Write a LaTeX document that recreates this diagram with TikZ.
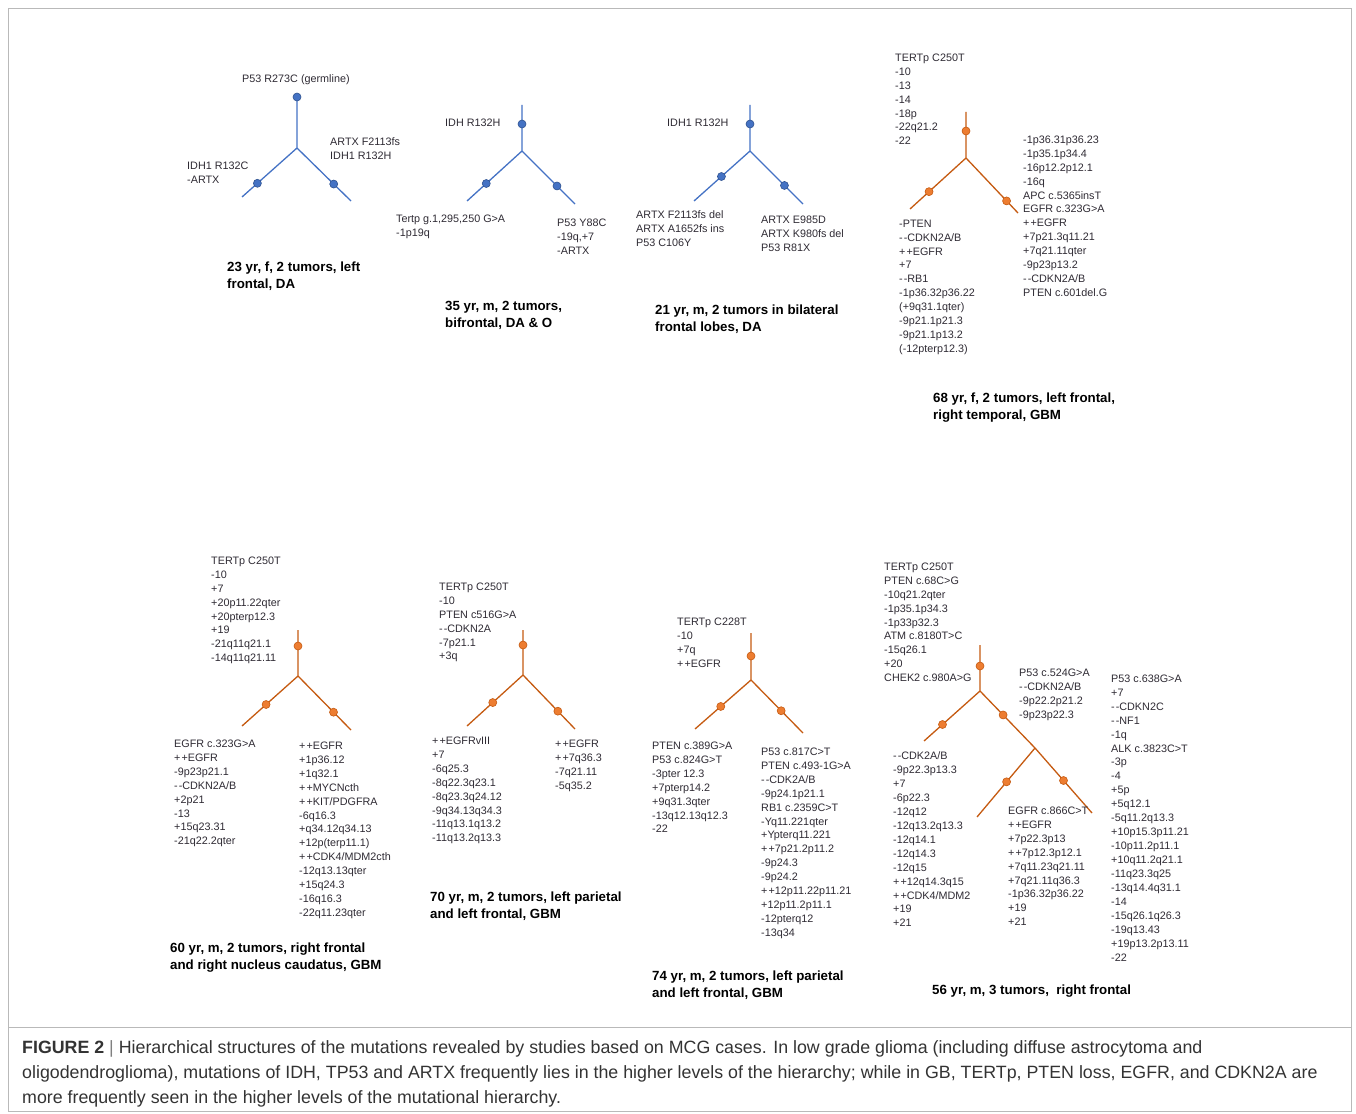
\documentclass[tikz,border=0pt]{standalone}
\usepackage{fontspec}
\setmainfont{Liberation Sans}
\usepackage{xcolor}
\usepackage{tikz}
\usetikzlibrary{calc}
\definecolor{lineblue}{HTML}{4472C4}
\definecolor{dotblue}{HTML}{4472C4}
\definecolor{dotblueedge}{HTML}{2F528F}
\definecolor{lineorange}{HTML}{C55A11}
\definecolor{dotorange}{HTML}{ED7D31}
\definecolor{dotorangeedge}{HTML}{C55A11}
\definecolor{mutgray}{HTML}{2E2A33}
\definecolor{capgray}{HTML}{333333}
\newcommand{\dm}{-\kern1pt-}
\newcommand{\pp}{+\kern1pt+}

\begin{document}
\begin{tikzpicture}[x=1pt, y=-1pt,
    lnb/.style={draw=lineblue, line width=1.3pt},
    lno/.style={draw=lineorange, line width=1.3pt},
    dotb/.style={circle, draw=dotblueedge, fill=dotblue, minimum size=8pt, inner sep=0pt, line width=0.6pt},
    doto/.style={circle, draw=dotorangeedge, fill=dotorange, minimum size=8pt, inner sep=0pt, line width=0.6pt},
    mut/.style={anchor=north west, inner sep=0pt, align=left, text=mutgray, font=\fontsize{10.8}{13.95}\selectfont},
    case/.style={anchor=north west, inner sep=0pt, align=left, font=\fontsize{13.3}{17}\selectfont\bfseries}]
    \useasboundingbox (0,0) rectangle (1356,1113);
    \draw[gray!55, line width=0.8pt] (8,8) rectangle (1351,1111);
    \draw[gray!55, line width=0.8pt] (8,1027) -- (1351,1027);

    \coordinate (t1) at (297,97);
    \coordinate (f1) at (297,148);
    \coordinate (l1) at (242,197);
    \coordinate (r1) at (351,201);
    \draw[lnb] (t1) -- (f1) -- (l1);
    \draw[lnb] (f1) -- (r1);
    \node[dotb] (d1t) at (t1) {};
    \node[dotb] (d1l) at ($(f1)!0.72!(l1)$) {};
    \node[dotb] (d1r) at ($(f1)!0.68!(r1)$) {};
    \node[mut] (m1t) at (242,74.5) {P53 R273C (germline)};
    \node[mut] (m1r) at (330,137.5) {ARTX F2113fs\\IDH1 R132H};
    \node[mut] (m1l) at (187,161.5) {IDH1 R132C\\-ARTX};
    \node[case] (c1) at (227,262) {23 yr, f, 2 tumors, left\\frontal, DA};

    \coordinate (t2) at (522,105);
    \coordinate (f2) at (522,151);
    \coordinate (l2) at (467,201);
    \coordinate (r2) at (575,204);
    \draw[lnb] (t2) -- (f2) -- (l2);
    \draw[lnb] (f2) -- (r2);
    \node[dotb] (d2t) at (522,124) {};
    \node[dotb] (d2l) at ($(f2)!0.65!(l2)$) {};
    \node[dotb] (d2r) at ($(f2)!0.66!(r2)$) {};
    \node[mut] (m2t) at (445,118.5) {IDH R132H};
    \node[mut] (m2l) at (396,214.5) {Tertp g.1,295,250 G>A\\-1p19q};
    \node[mut] (m2r) at (557,218.5) {P53 Y88C\\-19q,+7\\-ARTX};
    \node[case] (c2) at (445,301) {35 yr, m, 2 tumors,\\bifrontal, DA \& O};

    \coordinate (t3) at (750,105);
    \coordinate (f3) at (750,151);
    \coordinate (l3) at (694,201);
    \coordinate (r3) at (803,204);
    \draw[lnb] (t3) -- (f3) -- (l3);
    \draw[lnb] (f3) -- (r3);
    \node[dotb] (d3t) at (750,124) {};
    \node[dotb] (d3l) at ($(f3)!0.51!(l3)$) {};
    \node[dotb] (d3r) at ($(f3)!0.65!(r3)$) {};
    \node[mut] (m3t) at (667,118.5) {IDH1 R132H};
    \node[mut] (m3l) at (636,210.5) {ARTX F2113fs del\\ARTX A1652fs ins\\P53 C106Y};
    \node[mut] (m3r) at (761,215.5) {ARTX E985D\\ARTX K980fs del\\P53 R81X};
    \node[case] (c3) at (655,305) {21 yr, m, 2 tumors in bilateral\\frontal lobes, DA};

    \coordinate (t4) at (966,112);
    \coordinate (f4) at (966,158);
    \coordinate (l4) at (910,209);
    \coordinate (r4) at (1018,213);
    \draw[lno] (t4) -- (f4) -- (l4);
    \draw[lno] (f4) -- (r4);
    \node[doto] (d4t) at (966,131) {};
    \node[doto] (d4l) at ($(f4)!0.66!(l4)$) {};
    \node[doto] (d4r) at ($(f4)!0.78!(r4)$) {};
    \node[mut] (m4t) at (895,53.5) {TERTp C250T\\-10\\-13\\-14\\-18p\\-22q21.2\\-22};
    \node[mut] (m4r) at (1023,135.5) {-1p36.31p36.23\\-1p35.1p34.4\\-16p12.2p12.1\\-16q\\APC c.5365insT\\EGFR c.323G>A\\\pp EGFR\\+7p21.3q11.21\\+7q21.11qter\\-9p23p13.2\\\dm CDKN2A/B\\PTEN c.601del.G};
    \node[mut] (m4l) at (899,219.5) {-PTEN\\\dm CDKN2A/B\\\pp EGFR\\+7\\\dm RB1\\-1p36.32p36.22\\(+9q31.1qter)\\-9p21.1p21.3\\-9p21.1p13.2\\(-12pterp12.3)};
    \node[case] (c4) at (933,393) {68 yr, f, 2 tumors, left frontal,\\right temporal, GBM};

    \coordinate (t5) at (298,630);
    \coordinate (f5) at (298,676);
    \coordinate (l5) at (242,726);
    \coordinate (r5) at (351,730);
    \draw[lno] (t5) -- (f5) -- (l5);
    \draw[lno] (f5) -- (r5);
    \node[doto] (d5t) at (298,646) {};
    \node[doto] (d5l) at ($(f5)!0.57!(l5)$) {};
    \node[doto] (d5r) at ($(f5)!0.67!(r5)$) {};
    \node[mut] (m5t) at (211,556.5) {TERTp C250T\\-10\\+7\\+20p11.22qter\\+20pterp12.3\\+19\\-21q11q21.1\\-14q11q21.11};
    \node[mut] (m5l) at (174,739.5) {EGFR c.323G>A\\\pp EGFR\\-9p23p21.1\\\dm CDKN2A/B\\+2p21\\-13\\+15q23.31\\-21q22.2qter};
    \node[mut] (m5r) at (299,741.5) {\pp EGFR\\+1p36.12\\+1q32.1\\\pp MYCNcth\\\pp KIT/PDGFRA\\-6q16.3\\+q34.12q34.13\\+12p(terp11.1)\\\pp CDK4/MDM2cth\\-12q13.13qter\\+15q24.3\\-16q16.3\\-22q11.23qter};
    \node[case] (c5) at (170,943) {60 yr, m, 2 tumors, right frontal\\and right nucleus caudatus, GBM};

    \coordinate (t6) at (523,630);
    \coordinate (f6) at (523,675);
    \coordinate (l6) at (467,726);
    \coordinate (r6) at (575,729);
    \draw[lno] (t6) -- (f6) -- (l6);
    \draw[lno] (f6) -- (r6);
    \node[doto] (d6t) at (523,645) {};
    \node[doto] (d6l) at ($(f6)!0.54!(l6)$) {};
    \node[doto] (d6r) at ($(f6)!0.67!(r6)$) {};
    \node[mut] (m6t) at (439,582.5) {TERTp C250T\\-10\\PTEN c516G>A\\\dm CDKN2A\\-7p21.1\\+3q};
    \node[mut] (m6l) at (432,736.5) {\pp EGFRvIII\\+7\\-6q25.3\\-8q22.3q23.1\\-8q23.3q24.12\\-9q34.13q34.3\\-11q13.1q13.2\\-11q13.2q13.3};
    \node[mut] (m6r) at (555,739.5) {\pp EGFR\\\pp 7q36.3\\-7q21.11\\-5q35.2};
    \node[case] (c6) at (430,892) {70 yr, m, 2 tumors, left parietal\\and left frontal, GBM};

    \coordinate (t7) at (751,633);
    \coordinate (f7) at (751,680);
    \coordinate (l7) at (695,729);
    \coordinate (r7) at (803,733);
    \draw[lno] (t7) -- (f7) -- (l7);
    \draw[lno] (f7) -- (r7);
    \node[doto] (d7t) at (751,656) {};
    \node[doto] (d7l) at ($(f7)!0.54!(l7)$) {};
    \node[doto] (d7r) at ($(f7)!0.58!(r7)$) {};
    \node[mut] (m7t) at (677,617.5) {TERTp C228T\\-10\\+7q\\\pp EGFR};
    \node[mut] (m7l) at (652,741.5) {PTEN c.389G>A\\P53 c.824G>T\\-3pter 12.3\\+7pterp14.2\\+9q31.3qter\\-13q12.13q12.3\\-22};
    \node[mut] (m7r) at (761,747.5) {P53 c.817C>T\\PTEN c.493-1G>A\\\dm CDK2A/B\\-9p24.1p21.1\\RB1 c.2359C>T\\-Yq11.221qter\\+Ypterq11.221\\\pp 7p21.2p11.2\\-9p24.3\\-9p24.2\\\pp 12p11.22p11.21\\+12p11.2p11.1\\-12pterq12\\-13q34};
    \node[case] (c7) at (652,971) {74 yr, m, 2 tumors, left parietal\\and left frontal, GBM};

    \coordinate (t8) at (980,645);
    \coordinate (f8) at (980,691);
    \coordinate (l8) at (924,741);
    \coordinate (s8) at (1035,748);
    \coordinate (r8) at (1092,813);
    \coordinate (k8) at (977,817);
    \draw[lno] (t8) -- (f8) -- (l8);
    \draw[lno] (f8) -- (s8) -- (r8);
    \draw[lno] (s8) -- (k8);
    \node[doto] (d8t) at (980,666) {};
    \node[doto] (d8l) at ($(f8)!0.67!(l8)$) {};
    \node[doto] (d8s) at ($(f8)!0.42!(s8)$) {};
    \node[doto] (d8r) at ($(s8)!0.5!(r8)$) {};
    \node[doto] (d8k) at ($(s8)!0.49!(k8)$) {};
    \node[mut] (m8t) at (884,562.5) {TERTp C250T\\PTEN c.68C>G\\-10q21.2qter\\-1p35.1p34.3\\-1p33p32.3\\ATM c.8180T>C\\-15q26.1\\+20\\CHEK2 c.980A>G};
    \node[mut] (m8s) at (1019,668.5) {P53 c.524G>A\\\dm CDKN2A/B\\-9p22.2p21.2\\-9p23p22.3};
    \node[mut] (m8l) at (893,751.5) {\dm CDK2A/B\\-9p22.3p13.3\\+7\\-6p22.3\\-12q12\\-12q13.2q13.3\\-12q14.1\\-12q14.3\\-12q15\\\pp 12q14.3q15\\\pp CDK4/MDM2\\+19\\+21};
    \node[mut] (m8k) at (1008,806.5) {EGFR c.866C>T\\\pp EGFR\\+7p22.3p13\\\pp 7p12.3p12.1\\+7q11.23q21.11\\+7q21.11q36.3\\-1p36.32p36.22\\+19\\+21};
    \node[mut] (m8r) at (1111,674.5) {P53 c.638G>A\\+7\\\dm CDKN2C\\\dm NF1\\-1q\\ALK c.3823C>T\\-3p\\-4\\+5p\\+5q12.1\\-5q11.2q13.3\\+10p15.3p11.21\\-10p11.2p11.1\\+10q11.2q21.1\\-11q23.3q25\\-13q14.4q31.1\\-14\\-15q26.1q26.3\\-19q13.43\\+19p13.2p13.11\\-22};
    \node[case] (c8) at (932,985) {56 yr, m, 3 tumors,\ \ right frontal};

    \node[anchor=north west, inner sep=0pt, align=left, text=capgray, font=\fontsize{17.8}{25}\selectfont] (cap) at (22,1040) {\textbf{FIGURE 2} {\color{gray}|} Hierarchical structures of the mutations revealed by studies based on MCG cases. In low grade glioma (including diffuse astrocytoma and\\oligodendroglioma), mutations of IDH, TP53 and ARTX frequently lies in the higher levels of the hierarchy; while in GB, TERTp, PTEN loss, EGFR, and CDKN2A are\\more frequently seen in the higher levels of the mutational hierarchy.};
\end{tikzpicture}
\end{document}
